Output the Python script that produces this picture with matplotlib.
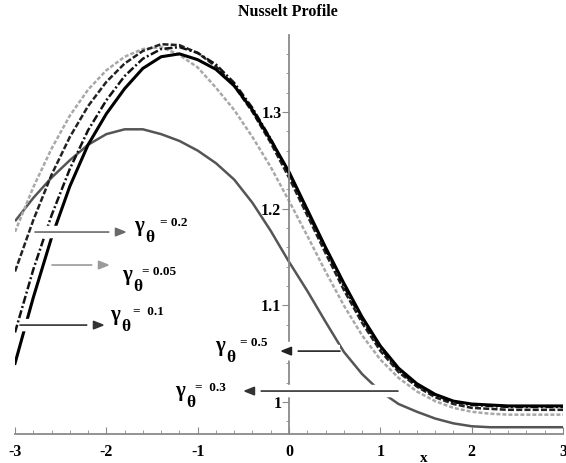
import matplotlib
matplotlib.use('Agg')
import matplotlib.pyplot as plt
import matplotlib.patheffects as pe
from matplotlib.ticker import FixedLocator, FixedFormatter, MultipleLocator

plt.rcParams['font.family'] = ['Liberation Serif', 'DejaVu Serif']
plt.rcParams['font.weight'] = 'bold'
plt.rcParams['axes.unicode_minus'] = False

# Nusselt number along x for several gamma_theta values
x = [-3.0, -2.8, -2.6, -2.4, -2.2, -2.0, -1.8, -1.6, -1.4, -1.2, -1.0,
     -0.8, -0.6, -0.4, -0.2, 0.0, 0.2, 0.4, 0.6, 0.8, 1.0,
     1.2, 1.4, 1.6, 1.8, 2.0, 2.2, 2.4, 2.6, 2.8, 3.0]

nu_005 = [1.040, 1.108, 1.170, 1.223, 1.266, 1.298, 1.324, 1.345, 1.357, 1.360, 1.354,
          1.344, 1.327, 1.302, 1.271, 1.238, 1.199, 1.160, 1.123, 1.088, 1.058,
          1.035, 1.019, 1.008, 1.001, 0.998, 0.997, 0.996, 0.996, 0.996, 0.996]
nu_01 = [1.072, 1.137, 1.193, 1.241, 1.281, 1.312, 1.337, 1.355, 1.365, 1.367, 1.361,
         1.349, 1.330, 1.304, 1.272, 1.236, 1.197, 1.158, 1.120, 1.085, 1.056,
         1.033, 1.017, 1.007, 1.000, 0.997, 0.996, 0.995, 0.995, 0.995, 0.995]
nu_02 = [1.135, 1.188, 1.235, 1.274, 1.306, 1.331, 1.350, 1.363, 1.370, 1.369, 1.361,
         1.347, 1.327, 1.300, 1.268, 1.232, 1.193, 1.154, 1.116, 1.082, 1.053,
         1.031, 1.016, 1.005, 0.998, 0.994, 0.993, 0.992, 0.992, 0.992, 0.992]
nu_03 = [1.176, 1.222, 1.262, 1.296, 1.323, 1.343, 1.357, 1.365, 1.367, 1.359, 1.346,
         1.325, 1.302, 1.274, 1.243, 1.208, 1.172, 1.135, 1.100, 1.069, 1.044,
         1.025, 1.011, 1.001, 0.994, 0.990, 0.988, 0.987, 0.987, 0.987, 0.987]
nu_05 = [1.187, 1.211, 1.232, 1.250, 1.266, 1.277, 1.282, 1.282, 1.277, 1.270, 1.260,
         1.247, 1.230, 1.206, 1.177, 1.145, 1.115, 1.083, 1.052, 1.029, 1.011,
         0.998, 0.990, 0.983, 0.978, 0.975, 0.974, 0.974, 0.974, 0.974, 0.974]

xticks = [-3, -2, -1, 0, 1, 2, 3]
xticklabels = ['-3', '-2', '-1', '0', '1', '2', '3']
yticks = [1.0, 1.1, 1.2, 1.3]
yticklabels = ['1', '1.1', '1.2', '1.3']

fig = plt.figure(figsize=(5.66, 4.63), dpi=100)
ax = fig.add_axes([15 / 566, 29 / 463, 548 / 566, 399 / 463])

ax.plot(x, nu_05, color='#555555', lw=1.8, solid_capstyle='butt')
ax.plot(x, nu_03, color='#a8a8a8', lw=1.8, linestyle=(0, (1.6, 0.8)))
ax.plot(x, nu_02, color='#222222', lw=1.8, linestyle=(0, (2.4, 0.9)))
ax.plot(x, nu_01, color='#111111', lw=1.8, linestyle=(0, (3.2, 1.0, 0.8, 1.0)))
ax.plot(x, nu_005, color='black', lw=2.2)

ax.set_xlim(-3, 3)
ax.set_ylim(0.967, 1.3795)

for side in ['top', 'right']:
    ax.spines[side].set_visible(False)
ax.spines['left'].set_position(('data', 0))
for side in ['left', 'bottom']:
    ax.spines[side].set_color('#8a8a8a')
    ax.spines[side].set_linewidth(1.3)

ax.xaxis.set_major_locator(FixedLocator(xticks))
ax.xaxis.set_major_formatter(FixedFormatter(xticklabels))
ax.xaxis.set_minor_locator(MultipleLocator(0.2))
ax.yaxis.set_major_locator(FixedLocator(yticks))
ax.yaxis.set_major_formatter(FixedFormatter(yticklabels))
ax.yaxis.set_minor_locator(MultipleLocator(0.02))

ax.tick_params(axis='x', which='both', direction='in', color='#8a8a8a',
               labelsize=11.5, pad=7)
ax.tick_params(axis='x', which='major', length=5)
ax.tick_params(axis='x', which='minor', length=3)
ax.tick_params(axis='y', which='both', direction='out', color='#8a8a8a',
               labelsize=11.5, pad=0.5)
ax.tick_params(axis='y', which='major', length=5)
ax.tick_params(axis='y', which='minor', length=2.5)

fig.text(288 / 566, 1 - 12 / 463, 'Nusselt Profile', ha='center', va='center',
         fontsize=11.5, fontweight='bold')
fig.text(424 / 566, 1 - 459 / 463, 'x', ha='center', va='center',
         fontsize=11, fontweight='bold')

# arrows: (tail, head, colour)
arrows = [
    ((-2.781, 1.1758), (-1.774, 1.1758), '#6a6a6a'),
    ((-2.595, 1.1417), (-1.960, 1.1417), '#9a9a9a'),
    ((-2.945, 1.0796), (-2.015, 1.0796), '#333333'),
    ((0.558, 1.0527), (-0.099, 1.0527), '#222222'),
    ((1.193, 1.0114), (-0.504, 1.0114), '#333333'),
]
for tail, head, col in arrows:
    ax.annotate('', xy=head, xytext=tail, zorder=4,
                arrowprops=dict(arrowstyle='-|>,head_length=0.55,head_width=0.22',
                                mutation_scale=12, color=col, lw=1.2,
                                shrinkA=0, shrinkB=0,
                                path_effects=[pe.withStroke(linewidth=9, foreground='white',
                                                            capstyle='butt')]))

# gamma_theta labels: (gamma position, offset of the value text in pixels, value)
labels = [
    ((-1.697, 1.182), 26, '= 0.2'),
    ((-1.829, 1.1313), 20, '= 0.05'),
    ((-1.960, 1.090), 23, '=  0.1'),
    ((-0.810, 1.0579), 25, '= 0.5'),
    ((-1.248, 1.0114), 20, '=  0.3'),
]
for pos, dx, txt in labels:
    ax.annotate('γ', xy=pos, xytext=(0, 0), textcoords='offset pixels',
                ha='left', va='center', fontsize=15, zorder=6)
    ax.annotate('θ', xy=pos, xytext=(11, -12), textcoords='offset pixels',
                ha='left', va='center', fontsize=12.5, zorder=6)
    ax.annotate(txt, xy=pos, xytext=(dx, 3), textcoords='offset pixels',
                ha='left', va='center', fontsize=9.5, zorder=6)

fig.savefig('out.png', dpi=100)
